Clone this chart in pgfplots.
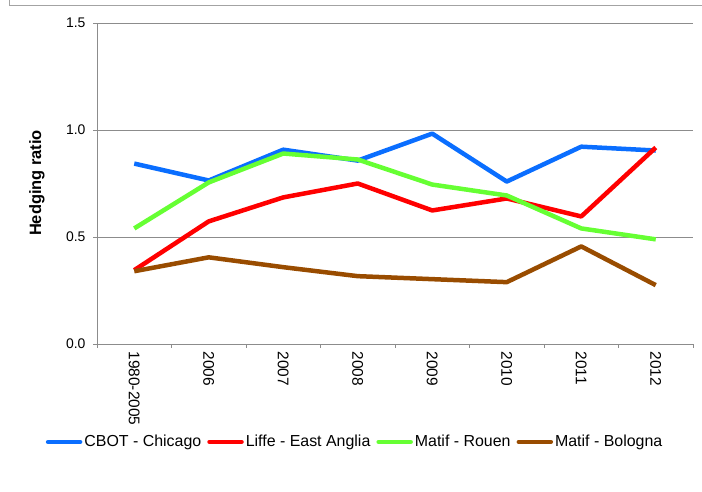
\documentclass[border=0pt]{standalone}
\usepackage{pgfplots}
\pgfplotsset{compat=1.18}
\usepackage{fontspec}
\setmainfont{Liberation Sans}
\definecolor{cblue}{RGB}{10,110,255}
\definecolor{cred}{RGB}{255,0,0}
\definecolor{cgreen}{RGB}{102,255,51}
\definecolor{cbrown}{RGB}{153,76,0}
\definecolor{gridgray}{RGB}{140,140,140}
\begin{document}
\begin{tikzpicture}[x=1bp,y=1bp]
\path[use as bounding box] (0,0) rectangle (702,492);
\draw[gridgray!80,line width=1bp] (9,492) -- (9,486) -- (702,486);
\node[rotate=90,font=\fontsize{16.5}{18}\selectfont\bfseries] at (37,309) {Hedging ratio};
\begin{axis}[
  at={(97bp,148bp)}, anchor=south west,
  scale only axis, width=596bp, height=321bp,
  xmin=-0.5, xmax=7.5, ymin=0, ymax=1.5,
  axis x line=bottom, axis y line=left,
  axis line style={-,gridgray,line width=0.8bp},
  xtick={0,...,7},
  xticklabels={1980-2005,2006,2007,2008,2009,2010,2011,2012},
  minor xtick={-0.5,0.5,...,7.5},
  major x tick style={draw=none},
  minor x tick style={gridgray,line width=0.8bp},
  ytick={0,0.5,1,1.5},
  y tick style={gridgray,line width=0.8bp},
  tick align=outside,
  major tick length=4bp, minor tick length=4bp,
  ymajorgrids, grid style={gridgray,line width=0.8bp},
  yticklabel style={/pgf/number format/fixed,/pgf/number format/fixed zerofill,/pgf/number format/precision=1,font=\fontsize{14}{16}\selectfont, xshift=-4bp},
  /pgf/number format/assume math mode=true,
  xticklabel style={rotate=-90,anchor=west,font=\fontsize{15.5}{17}\selectfont},
  legend columns=4,
  legend style={at={(0.433,-0.305)},anchor=center,draw=none,fill=none,
    font=\fontsize{16}{18}\selectfont,
    /tikz/every even column/.append style={column sep=4bp},
    inner sep=0pt},
  legend cell align=left,
  legend image code/.code={\draw[#1,line width=4.5bp,line cap=round] (0bp,0bp) -- (32bp,0bp);},
  every axis plot/.append style={line width=4.5bp, line join=round, mark=none},
  clip=false,
]
\addplot[cblue] coordinates {(0,0.843) (1,0.764) (2,0.908) (3,0.857) (4,0.983) (5,0.759) (6,0.922) (7,0.904)};
\addlegendentry{CBOT - Chicago}
\addplot[cred] coordinates {(0,0.345) (1,0.573) (2,0.685) (3,0.75) (4,0.624) (5,0.68) (6,0.596) (7,0.918)};
\addlegendentry{Liffe - East Anglia}
\addplot[cgreen] coordinates {(0,0.54) (1,0.755) (2,0.89) (3,0.862) (4,0.745) (5,0.694) (6,0.54) (7,0.489)};
\addlegendentry{Matif - Rouen}
\addplot[cbrown] coordinates {(0,0.34) (1,0.405) (2,0.359) (3,0.317) (4,0.303) (5,0.289) (6,0.456) (7,0.275)};
\addlegendentry{Matif - Bologna}
\end{axis}
\end{tikzpicture}
\end{document}
